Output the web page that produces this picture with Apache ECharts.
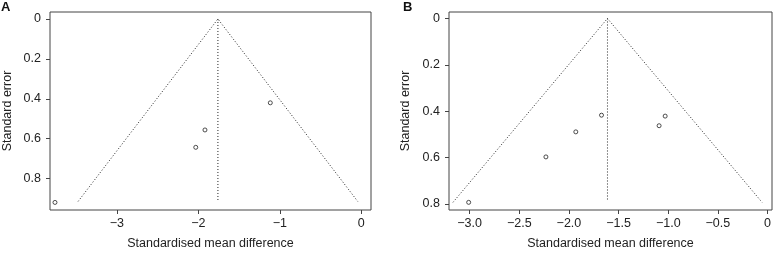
<!DOCTYPE html>
<html>
<head>
<meta charset="utf-8">
<script src="https://cdn.jsdelivr.net/npm/echarts@6/dist/echarts.min.js"></script>
<style>
  html, body { margin: 0; padding: 0; background: #fff; }
  #main { width: 775px; height: 255px; }
</style>
</head>
<body>
<div id="main"></div>
<script>
// panel A
var studiesA = [[-3.76, 0.919], [-1.117, 0.420], [-1.919, 0.556], [-2.032, 0.643]];
var funnelA = [[-3.476, 0.914], [-1.76, 0], [-0.044, 0.914]];
var meanA = [[-1.76, 0], [-1.76, 0.907]];
var xTicksA = [-3, -2, -1, 0];
var yTicksA = [0, 0.2, 0.4, 0.6, 0.8];

// panel B
var studiesB = [[-3.01, 0.793], [-2.232, 0.597], [-1.931, 0.489], [-1.672, 0.417], [-1.092, 0.4625], [-1.031, 0.421]];
var funnelB = [[-3.168, 0.793], [-1.612, 0], [-0.055, 0.793]];
var meanB = [[-1.612, 0], [-1.612, 0.782]];
var xTicksB = [-3, -2.5, -2, -1.5, -1, -0.5, 0];
var yTicksB = [0, 0.2, 0.4, 0.6, 0.8];

var chart = echarts.init(document.getElementById('main'));
var ink = '#222';
var font = 'Liberation Sans, Arial, sans-serif';

function minus(s) { return String(s).replace('-', '\u2212'); }

function xAxisOf(idx, min, max, ticks, fmt) {
  return {
    type: 'value', gridIndex: idx, min: min, max: max,
    name: 'Standardised mean difference', nameLocation: 'middle', nameGap: 27,
    nameTextStyle: { color: ink, fontSize: 12.5, fontFamily: font },
    axisLine: { show: false, onZero: false },
    axisTick: { show: true, length: 4, lineStyle: { color: '#444' }, customValues: ticks },
    axisLabel: { color: ink, fontSize: 12.5, fontFamily: font, margin: 7, customValues: ticks, formatter: fmt },
    splitLine: { show: false }
  };
}
function yAxisOf(idx, min, max, ticks, gap) {
  return {
    type: 'value', gridIndex: idx, min: min, max: max, inverse: true,
    name: 'Standard error', nameLocation: 'middle', nameGap: gap,
    nameTextStyle: { color: ink, fontSize: 12.5, fontFamily: font },
    axisLine: { show: false, onZero: false },
    axisTick: { show: true, length: 4, lineStyle: { color: '#444' }, customValues: ticks },
    axisLabel: { color: ink, fontSize: 12.5, fontFamily: font, margin: 9, customValues: ticks,
      formatter: function (v) { return String(+v.toFixed(1)); } },
    splitLine: { show: false }
  };
}
function lineSeries(idx, data) {
  return {
    type: 'line', xAxisIndex: idx, yAxisIndex: idx, data: data, symbol: 'none',
    lineStyle: { color: ink, width: 1, type: [1, 2] }, silent: true, z: 1
  };
}
function pointSeries(idx, data) {
  return {
    type: 'scatter', xAxisIndex: idx, yAxisIndex: idx, data: data, symbol: 'circle', symbolSize: 4,
    itemStyle: { color: '#fff', borderColor: ink, borderWidth: 1 }, z: 3
  };
}

var option = {
  animation: false,
  grid: [
    { left: 47, top: 12, width: 324, height: 205, show: true, borderColor: '#444', borderWidth: 1, backgroundColor: 'transparent' },
    { left: 449, top: 12, width: 323, height: 205, show: true, borderColor: '#444', borderWidth: 1, backgroundColor: 'transparent' }
  ],
  xAxis: [
    xAxisOf(0, -3.821, 0.119, xTicksA, function (v) { return minus(Math.round(v)); }),
    xAxisOf(1, -3.208, 0.045, xTicksB, function (v) { return v === 0 ? '0' : minus(v.toFixed(1)); })
  ],
  yAxis: [
    yAxisOf(0, -0.035, 0.957, yTicksA, 36),
    yAxisOf(1, -0.028, 0.826, yTicksB, 37)
  ],
  graphic: [
    { type: 'text', left: 1, top: 1, style: { text: 'A', fontSize: 13, fontWeight: 'bold', fill: '#111', fontFamily: font } },
    { type: 'text', left: 403, top: 1, style: { text: 'B', fontSize: 13, fontWeight: 'bold', fill: '#111', fontFamily: font } }
  ],
  series: [
    lineSeries(0, funnelA), lineSeries(0, meanA), pointSeries(0, studiesA),
    lineSeries(1, funnelB), lineSeries(1, meanB), pointSeries(1, studiesB)
  ]
};
chart.setOption(option);
</script>
</body>
</html>
